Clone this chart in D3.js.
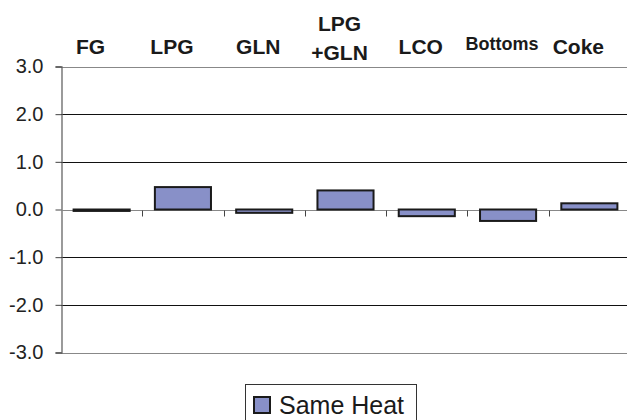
<!DOCTYPE html>
<html>
<head>
<meta charset="utf-8">
<script src="https://cdn.jsdelivr.net/npm/d3@7"></script>
<style>
  body { margin: 0; background: #fff; }
  svg { display: block; font-family: Arial, "Liberation Sans", sans-serif; }
</style>
</head>
<body>
<script>
// categories shown along the top, values of the single series
var categories = ["FG", "LPG", "GLN", "LPG\n+GLN", "LCO", "Bottoms", "Coke"];
var sameHeat = [-0.03, 0.47, -0.07, 0.40, -0.14, -0.24, 0.13];
var yTicks = [3, 2, 1, 0, -1, -2, -3];
var seriesName = "Same Heat";

var width = 627, height = 420;
var svg = d3.select("body").append("svg")
  .attr("width", width)
  .attr("height", height);

var x = d3.scaleBand()
  .domain(categories)
  .range([61, 630])
  .paddingInner(0.31)
  .paddingOuter(0.155);

var y = d3.scaleLinear()
  .domain([-3, 3])
  .range([352.5, 66.5]);

// grid lines
svg.append("g")
  .selectAll("line")
  .data(yTicks.filter(function(d){ return d != 0 && Math.abs(d) != 3; }))
  .join("line")
  .attr("x1", 61).attr("x2", width)
  .attr("y1", function(d){ return Math.round(y(d)) + 0.5; })
  .attr("y2", function(d){ return Math.round(y(d)) + 0.5; })
  .attr("stroke", "#111")
  .attr("stroke-width", 1);

// top and bottom border lines
svg.append("g")
  .selectAll("line")
  .data([3, -3])
  .join("line")
  .attr("x1", 61).attr("x2", width)
  .attr("y1", function(d){ return Math.round(y(d)) + 0.5; })
  .attr("y2", function(d){ return Math.round(y(d)) + 0.5; })
  .attr("stroke", "#888")
  .attr("stroke-width", 1.2);

// y axis
var yAxis = svg.append("g")
  .attr("transform", "translate(61.5,0)")
  .call(d3.axisLeft(y).tickValues(yTicks).tickSize(6).tickPadding(12)
    .tickFormat(d3.format(".1f")));
yAxis.select(".domain").attr("stroke", "#666").attr("stroke-width", 1.3);
yAxis.selectAll(".tick line").attr("stroke", "#444");
yAxis.selectAll("text")
  .attr("font-size", 20)
  .attr("fill", "#222")
  .text(function(d){ return d3.format(".1f")(d).replace("−", "-"); });

// zero line with category ticks
var y0 = Math.round(y(0)) + 0.5;
svg.append("line")
  .attr("x1", 61).attr("x2", width)
  .attr("y1", y0).attr("y2", y0)
  .attr("stroke", "#888").attr("stroke-width", 1.2);

var step = x.step();
svg.append("g")
  .selectAll("line")
  .data(categories.slice(1))
  .join("line")
  .attr("x1", function(d){ return Math.round(x(d) - x.paddingInner() * step / 2) + 0.5; })
  .attr("x2", function(d){ return Math.round(x(d) - x.paddingInner() * step / 2) + 0.5; })
  .attr("y1", y0).attr("y2", y0 + 6)
  .attr("stroke", "#444");

// bars
svg.append("g")
  .selectAll("rect")
  .data(sameHeat)
  .join("rect")
  .attr("x", function(d, i){ return x(categories[i]); })
  .attr("width", x.bandwidth())
  .attr("y", function(d){ return y(Math.max(0, d)); })
  .attr("height", function(d){ return Math.abs(y(d) - y(0)); })
  .attr("fill", "#8890c8")
  .attr("stroke", "#1a1a1a")
  .attr("stroke-width", 2);

// category labels along the top (slightly left of the band centres, as in the original)
var labels = svg.append("g")
  .selectAll("text")
  .data(categories)
  .join("text")
  .attr("font-weight", "bold")
  .attr("font-size", function(d){ return d == "Bottoms" ? 18 : 21; })
  .attr("fill", "#1a1a1a")
  .attr("text-anchor", "middle")
  .attr("x", function(d){
    var cx = x(d) + x.bandwidth() / 2;
    return d == "Coke" || d == "FG" || d == "LPG" ? cx - 11 : cx - 6;
  })
  .attr("y", function(d){
    if (d == "Bottoms") return 50;
    return d.indexOf("\n") >= 0 ? 31 : 54;
  });
labels.each(function(d){
  var parts = d.split("\n");
  var t = d3.select(this);
  parts.forEach(function(p, k){
    t.append("tspan")
      .attr("x", t.attr("x"))
      .attr("dy", k == 0 ? 0 : 29)
      .text(p);
  });
});

// legend
var leg = svg.append("g");
leg.append("rect")
  .attr("x", 245.5).attr("y", 384.5)
  .attr("width", 171).attr("height", 50)
  .attr("fill", "#fff").attr("stroke", "#333").attr("stroke-width", 1);
leg.append("rect")
  .attr("x", 254).attr("y", 397)
  .attr("width", 16).attr("height", 16)
  .attr("fill", "#8890c8").attr("stroke", "#1a1a1a").attr("stroke-width", 2);
leg.append("text")
  .attr("x", 279).attr("y", 414)
  .attr("font-size", 25)
  .attr("fill", "#1a1a1a")
  .text(seriesName);
</script>
</body>
</html>
